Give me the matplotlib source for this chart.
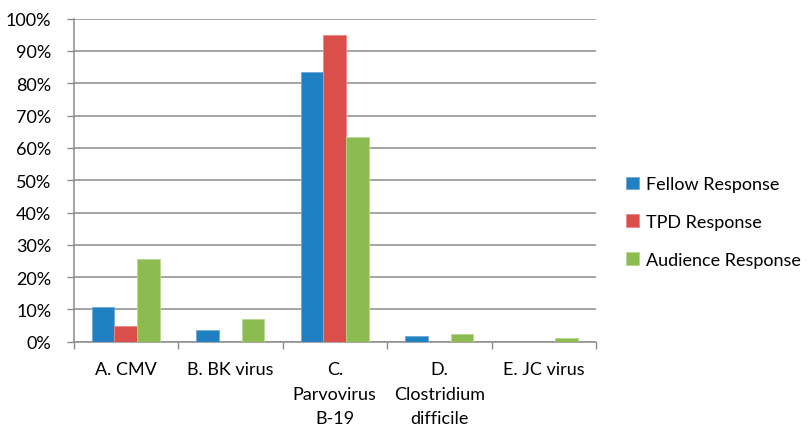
import numpy as np
import matplotlib as mpl
mpl.use('Agg')
import matplotlib.pyplot as plt
from matplotlib.ticker import PercentFormatter

plt.rcParams['font.family'] = ['Lato', 'DejaVu Sans']

categories = ['A. CMV', 'B. BK virus', 'C.\nParvovirus\nB-19', 'D.\nClostridium\ndifficile', 'E. JC virus']
fellow = [10.7, 3.5, 83.6, 1.7, 0.0]
tpd = [4.9, 0.0, 95.0, 0.0, 0.0]
audience = [25.5, 7.1, 63.3, 2.4, 1.2]
series_names = ['Fellow Response', 'TPD Response', 'Audience Response']
colors = ['#2080C1', '#DB4F4B', '#8CBC50']
edges = ['#6FA9D6', '#EB8A87', '#B5D68E']

fig = plt.figure(figsize=[8.08, 4.27], dpi=100)
ax = fig.add_axes([73.5 / 808, 1 - 342.7 / 427, (596 - 73.5) / 808, (342.7 - 19.7) / 427])

x = np.arange(len(categories))
w = 1 / 4.6
for i, (vals, name, c, ec) in enumerate(zip([fellow, tpd, audience], series_names, colors, edges)):
    ax.bar(x + (i - 1) * w, vals, width=w, color=c, edgecolor=ec, linewidth=0.6, label=name, zorder=3)

ax.set_xlim(-0.5, len(categories) - 0.5)
ax.set_ylim(0, 100)
ax.set_yticks(np.arange(0, 101, 10))
ax.yaxis.set_major_formatter(PercentFormatter(decimals=0))
ax.yaxis.grid(True, color='#8C8C8C', linewidth=1.1, zorder=0)

ax.set_xticks(x)
ax.set_xticklabels(categories, fontsize=13, linespacing=1.65, va='top')
ax.set_xticks(np.arange(-0.5, len(categories)), minor=True)
ax.tick_params(axis='x', which='major', length=0, pad=14)
ax.tick_params(axis='x', which='minor', length=5, width=1, color='#8C8C8C')
ax.tick_params(axis='y', length=5, width=1, color='#8C8C8C', labelsize=13, pad=11)

for side in ['top', 'right']:
    ax.spines[side].set_visible(False)
for side in ['left', 'bottom']:
    ax.spines[side].set_color('#8C8C8C')
    ax.spines[side].set_linewidth(1.1)

fig.legend(loc='upper left', bbox_to_anchor=(610 / 808, 1 - 161 / 427), frameon=False,
           fontsize=13, labelspacing=1.2, handlelength=0.7, handleheight=0.7, handletextpad=0.4)

fig.savefig('out.png', dpi=100)
